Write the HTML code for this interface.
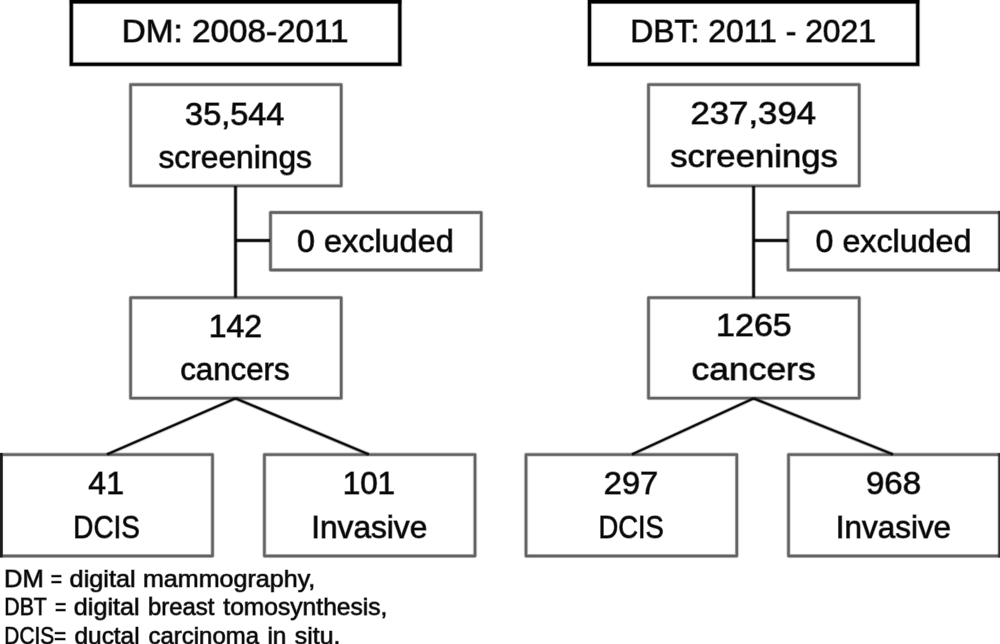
<!DOCTYPE html>
<html lang="en"><head><meta charset="utf-8"><title>Study flowchart</title>
<style>
html,body{margin:0;padding:0;background:#fff;}
body{width:1000px;height:644px;overflow:hidden;}
svg{display:block;}
text{font-family:"Liberation Sans",sans-serif;fill:#080808;stroke:rgba(8,8,8,0.5);stroke-width:1.35px;stroke-linejoin:round;paint-order:stroke fill;white-space:pre;}
.f text{stroke:rgba(8,8,8,0.5);stroke-width:1.25px;}
.b{fill:none;stroke:#626262;stroke-linejoin:round;}
.h{fill:none;stroke:#000;stroke-linejoin:miter;}
.l{fill:none;stroke:#0a0a0a;stroke-linecap:butt;}
</style></head><body>
<svg width="1000" height="644" viewBox="0 0 1000 644">
<rect x="0" y="0" width="1000" height="644" fill="#fff"/>
<g class="b" stroke-width="4.70" stroke-opacity="0.14">
<rect x="130.6" y="84.6" width="210.60" height="101.30"/>
<rect x="270.5" y="212.5" width="210.70" height="57.50"/>
<rect x="130.6" y="297.7" width="210.60" height="100.50"/>
<rect x="1.0" y="454.6" width="211.50" height="101.40"/>
<rect x="264.4" y="454.6" width="210.60" height="101.40"/>
<rect x="648.5" y="84.6" width="210.70" height="101.30"/>
<rect x="788" y="212.5" width="214.00" height="57.50"/>
<rect x="648.5" y="297.7" width="210.70" height="100.50"/>
<rect x="526" y="454.6" width="210.80" height="101.40"/>
<rect x="788.5" y="454.6" width="213.50" height="101.40"/>
</g>
<g class="b" stroke-width="3.50" stroke-opacity="0.4">
<rect x="130.6" y="84.6" width="210.60" height="101.30"/>
<rect x="270.5" y="212.5" width="210.70" height="57.50"/>
<rect x="130.6" y="297.7" width="210.60" height="100.50"/>
<rect x="1.0" y="454.6" width="211.50" height="101.40"/>
<rect x="264.4" y="454.6" width="210.60" height="101.40"/>
<rect x="648.5" y="84.6" width="210.70" height="101.30"/>
<rect x="788" y="212.5" width="214.00" height="57.50"/>
<rect x="648.5" y="297.7" width="210.70" height="100.50"/>
<rect x="526" y="454.6" width="210.80" height="101.40"/>
<rect x="788.5" y="454.6" width="213.50" height="101.40"/>
</g>
<g class="b" stroke-width="2.30" stroke-opacity="1.0">
<rect x="130.6" y="84.6" width="210.60" height="101.30"/>
<rect x="270.5" y="212.5" width="210.70" height="57.50"/>
<rect x="130.6" y="297.7" width="210.60" height="100.50"/>
<rect x="1.0" y="454.6" width="211.50" height="101.40"/>
<rect x="264.4" y="454.6" width="210.60" height="101.40"/>
<rect x="648.5" y="84.6" width="210.70" height="101.30"/>
<rect x="788" y="212.5" width="214.00" height="57.50"/>
<rect x="648.5" y="297.7" width="210.70" height="100.50"/>
<rect x="526" y="454.6" width="210.80" height="101.40"/>
<rect x="788.5" y="454.6" width="213.50" height="101.40"/>
</g>
<g class="h" stroke-width="5.30" stroke-opacity="0.14">
<rect x="71.3" y="1.6" width="328.50" height="62.70"/>
<rect x="589.5" y="1.6" width="328.20" height="62.70"/>
</g>
<g class="h" stroke-width="4.10" stroke-opacity="0.4">
<rect x="71.3" y="1.6" width="328.50" height="62.70"/>
<rect x="589.5" y="1.6" width="328.20" height="62.70"/>
</g>
<g class="h" stroke-width="2.90" stroke-opacity="1.0">
<rect x="71.3" y="1.6" width="328.50" height="62.70"/>
<rect x="589.5" y="1.6" width="328.20" height="62.70"/>
</g>
<rect x="69.8" y="0" width="331.5" height="3.4" fill="#000"/>
<rect x="588" y="0" width="331.2" height="3.4" fill="#000"/>
<rect x="998.3" y="211" width="2" height="60.4" fill="#2a2a2a"/>
<rect x="998.3" y="453.2" width="2" height="104.2" fill="#2a2a2a"/>
<rect x="997.5" y="211" width="0.8" height="60.4" fill="#2a2a2a" fill-opacity="0.35"/>
<rect x="997.5" y="453.2" width="0.8" height="104.2" fill="#2a2a2a" fill-opacity="0.35"/>
<rect x="0" y="453" width="2.7" height="104.4" fill="#1c1c1c"/>
<g class="l" stroke-width="4.70" stroke-opacity="0.14">
<line x1="235.5" y1="186" x2="235.5" y2="297.5"/>
<line x1="235.5" y1="240.5" x2="270" y2="240.5"/>
<line x1="753.6" y1="186" x2="753.6" y2="297.5"/>
<line x1="753.6" y1="240.5" x2="788" y2="240.5"/>
</g>
<g class="l" stroke-width="3.50" stroke-opacity="0.4">
<line x1="235.5" y1="186" x2="235.5" y2="297.5"/>
<line x1="235.5" y1="240.5" x2="270" y2="240.5"/>
<line x1="753.6" y1="186" x2="753.6" y2="297.5"/>
<line x1="753.6" y1="240.5" x2="788" y2="240.5"/>
</g>
<g class="l" stroke-width="2.30" stroke-opacity="1.0">
<line x1="235.5" y1="186" x2="235.5" y2="297.5"/>
<line x1="235.5" y1="240.5" x2="270" y2="240.5"/>
<line x1="753.6" y1="186" x2="753.6" y2="297.5"/>
<line x1="753.6" y1="240.5" x2="788" y2="240.5"/>
</g>
<g class="l" stroke-width="4.40" stroke-opacity="0.14">
<line x1="235.5" y1="398.4" x2="107" y2="454.4"/>
<line x1="235.5" y1="398.4" x2="368.8" y2="454.4"/>
<line x1="753.6" y1="398.4" x2="632" y2="454.4"/>
<line x1="753.6" y1="398.4" x2="893" y2="454.4"/>
</g>
<g class="l" stroke-width="3.20" stroke-opacity="0.4">
<line x1="235.5" y1="398.4" x2="107" y2="454.4"/>
<line x1="235.5" y1="398.4" x2="368.8" y2="454.4"/>
<line x1="753.6" y1="398.4" x2="632" y2="454.4"/>
<line x1="753.6" y1="398.4" x2="893" y2="454.4"/>
</g>
<g class="l" stroke-width="2.00" stroke-opacity="1.0">
<line x1="235.5" y1="398.4" x2="107" y2="454.4"/>
<line x1="235.5" y1="398.4" x2="368.8" y2="454.4"/>
<line x1="753.6" y1="398.4" x2="632" y2="454.4"/>
<line x1="753.6" y1="398.4" x2="893" y2="454.4"/>
</g>
<text transform="translate(121.74,41.9) scale(1.0805,1)" font-size="30.8">DM: 2008-2011</text>
<text transform="translate(185.10,124.6) scale(1.0465,1)" font-size="31.0">35,544</text>
<text transform="translate(158.45,167.6) scale(1.0076,1)" font-size="31.5">screenings</text>
<text transform="translate(297.00,251.6) scale(1.0289,1)" font-size="31.5">0 excluded</text>
<text transform="translate(208.70,337.2) scale(1.0327,1)" font-size="31.0">142</text>
<text transform="translate(180.15,379.8) scale(0.9936,1)" font-size="31.5">cancers</text>
<text transform="translate(88.36,494.3) scale(1.0310,1)" font-size="31.0">41</text>
<text transform="translate(73.37,537.6) scale(0.8850,1)" font-size="31.5">DCIS</text>
<text transform="translate(342.64,494.3) scale(1.0147,1)" font-size="31.0">101</text>
<text transform="translate(311.15,537.6) scale(1.0054,1)" font-size="31.5">Invasive</text>
<text transform="translate(630.25,41.9) scale(1.0359,1)" font-size="30.8">DBT: 2011 - 2021</text>
<text transform="translate(690.46,123.8) scale(1.1063,1)" font-size="31.4">237,394</text>
<text transform="translate(670.16,167.3) scale(1.1186,1)" font-size="31.0">screenings</text>
<text transform="translate(815.51,251.6) scale(1.0229,1)" font-size="31.5">0 excluded</text>
<text transform="translate(716.05,336.4) scale(1.1048,1)" font-size="30.8">1265</text>
<text transform="translate(691.58,379.5) scale(1.1434,1)" font-size="31.0">cancers</text>
<text transform="translate(603.77,494.3) scale(1.0512,1)" font-size="31.0">297</text>
<text transform="translate(598.41,537.6) scale(0.8709,1)" font-size="31.5">DCIS</text>
<text transform="translate(865.91,494.3) scale(1.0657,1)" font-size="31.0">968</text>
<text transform="translate(835.77,537.6) scale(0.9982,1)" font-size="31.5">Invasive</text>
<g class="f" font-size="23.5">
<text transform="translate(3.96,587.4) scale(1.0868,1)">DM </text>
<text transform="translate(50.73,587.4) scale(0.8247,1)">= </text>
<text transform="translate(69.59,587.4) scale(1.0753,1)">digital </text>
<text transform="translate(142.97,587.4) scale(1.0670,1)">mammography,</text>
</g>
<g class="f" font-size="23.5">
<text transform="translate(4.30,615.1) scale(0.9048,1)">DBT </text>
<text transform="translate(54.93,615.1) scale(0.8247,1)">= </text>
<text transform="translate(73.79,615.1) scale(1.0719,1)">digital </text>
<text transform="translate(147.95,615.1) scale(1.0178,1)">breast </text>
<text transform="translate(223.33,615.1) scale(1.0475,1)">tomosynthesis,</text>
</g>
<g class="f" font-size="23.5">
<text transform="translate(4.33,643.7) scale(0.8870,1)">DCIS= </text>
<text transform="translate(74.53,643.7) scale(1.0372,1)">ductal </text>
<text transform="translate(148.54,643.7) scale(1.0196,1)">carcinoma </text>
<text transform="translate(267.42,643.7) scale(1.0358,1)">in </text>
<text transform="translate(294.86,643.7) scale(1.0551,1)">situ.</text>
</g>
</svg>
</body></html>
